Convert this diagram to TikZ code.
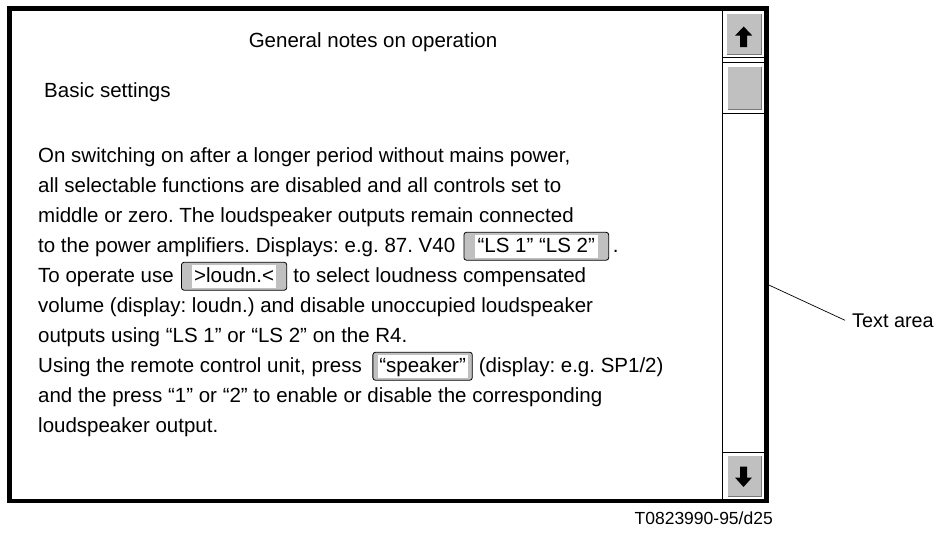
\documentclass[tikz,border=0pt]{standalone}
\usepackage{fontspec}
\setmainfont{Liberation Sans}
\usetikzlibrary{backgrounds,fit}
\definecolor{keygray}{RGB}{192,192,192}
\definecolor{bevelgray}{RGB}{120,120,120}
\newcommand\bodysize{\fontsize{20.5}{24}\selectfont}

\begin{document}
\frenchspacing
\begin{tikzpicture}[x=1pt,y=-1pt,
  body/.style={inner sep=0pt, anchor=base west, font=\bodysize},
  keyface/.style={fill=white, inner ysep=1pt, text height=16pt, text depth=4.5pt,
                  anchor=base west, font=\bodysize},
  keyframe/.style={draw=black, line width=0.8pt, fill=keygray, rounded corners=2.5pt,
                   inner ysep=2.5pt},
  bar/.style={line width=0.8pt},
  light/.style={white, line width=1pt},
  dark/.style={bevelgray, line width=1pt},
]
\useasboundingbox (0,0) rectangle (940,533);

% window frame
\draw[line width=4.5pt] (9.5,8.3) rectangle (766.5,500.8);

% scroll bar
\draw[bar] (722.5,10.5) -- (722.5,498.5);
\draw[bar] (722.5,57.5) -- (764.3,57.5);
\draw[bar] (722.5,452.5) -- (764.3,452.5);
\draw[bar] (722.5,62.5) rectangle (764.3,113);

% up button face
\fill[keygray] (726,13) rectangle (762,55);
\draw[light] (726.5,55) -- (726.5,13.5) -- (762,13.5);
\draw[dark] (726.5,54.5) -- (761.5,54.5) -- (761.5,13.5);
% thumb face
\fill[keygray] (727,66) rectangle (762,110);
\draw[light] (727.5,110) -- (727.5,66.5) -- (762,66.5);
\draw[dark] (727.5,109.5) -- (761.5,109.5) -- (761.5,66.5);
% down button face
\fill[keygray] (727,455) rectangle (762,497);
\draw[light] (727.5,497) -- (727.5,455.5) -- (762,455.5);
\draw[dark] (727.5,496.5) -- (761.5,496.5) -- (761.5,455.5);

% arrows
\fill (743.7,26.5) -- (752.2,35.5) -- (747.2,35.5) -- (747.2,47) -- (740.2,47)
      -- (740.2,35.5) -- (735.2,35.5) -- cycle;
\fill (743.5,487) -- (752,477.5) -- (747,477.5) -- (747,466.5) -- (740,466.5)
      -- (740,477.5) -- (735,477.5) -- cycle;

% headings
\node[body, anchor=base] (title) at (373,47) {General notes on operation};
\node[body] (basic) at (44,97) {Basic settings};

% body text
\node[body] (l1) at (38,162) {On switching on after a longer period without mains power,};
\node[body] (l2) at (38,192) {all selectable functions are disabled and all controls set to};
\node[body] (l3) at (38,222) {middle or zero. The loudspeaker outputs remain connected};

\node[body] (l4a) at (38,252) {to the power amplifiers. Displays: e.g. 87. V40};
\node[keyface, inner xsep=3pt] (k1) at ([xshift=19pt]l4a.base east) {“LS 1” “LS 2”};

\node[body] (l5a) at (38,282) {To operate use};
\node[keyface, inner xsep=2pt] (k2) at ([xshift=18pt]l5a.base east) {>loudn.<};

\node[body] (l6) at (38,312) {volume (display: loudn.) and disable unoccupied loudspeaker};
\node[body] (l7) at (38,342) {outputs using “LS 1” or “LS 2” on the R4.};

\node[body] (l8a) at (38,372) {Using the remote control unit, press};
\node[keyface, inner xsep=1.7pt] (k3) at ([xshift=15.4pt]l8a.base east) {“speaker”};

\node[body] (l9) at (38,402) {and the press “1” or “2” to enable or disable the corresponding};
\node[body] (l10) at (38,432) {loudspeaker output.};

% key frames behind the key labels
\begin{scope}[on background layer]
  \node[keyframe, fit=(k1), inner xsep=10.5pt] (k1f) {};
  \node[keyframe, fit=(k2), inner xsep=10.5pt] (k2f) {};
  \node[keyframe, fit=(k3), inner xsep=4.5pt] (k3f) {};
\end{scope}

% text following the keys
\node[body] (l4c) at ([xshift=3.5pt]k1f.east |- l4a.base) {.};
\node[body] (l5b) at ([xshift=6pt]k2f.east |- l5a.base) {to select loudness compensated};
\node[body] (l8b) at ([xshift=6pt]k3f.east |- l8a.base) {(display: e.g. SP1/2)};

% callout
\node[body, font=\fontsize{19.8}{23}\selectfont] (ta) at (852,327) {Text area};
\coordinate (tap) at (768.8,285);
\draw[line width=0.7pt] (tap) -- ([xshift=-7pt]ta.west);

% drawing number
\node[inner sep=0pt, anchor=base east, font=\fontsize{17.5}{21}\selectfont] (code)
  at (773,524) {T0823990-95/d25};
\end{tikzpicture}
\end{document}
